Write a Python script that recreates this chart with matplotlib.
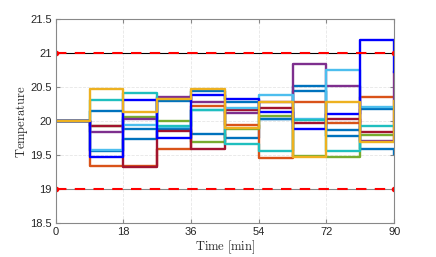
import matplotlib
matplotlib.use("Agg")
import matplotlib.pyplot as plt
from matplotlib.ticker import FormatStrFormatter
import numpy as np

plt.rcParams['mathtext.fontset'] = 'cm'

# time grid (minutes), one sample every 9 min
t = [0, 9, 18, 27, 36, 45, 54, 63, 72, 81, 90]

# room temperatures
blue1 = [20, 20.15, 19.89, 20.30, 20.45, 20.29, 20.03, 20.52, 19.87, 20.18, 20.18]
blue2 = [20, 19.57, 19.74, 19.89, 19.81, 19.75, 20.04, 20.44, 19.79, 19.60, 19.52]
orange = [20, 19.34, 19.34, 19.59, 20.23, 19.95, 19.46, 20.29, 19.97, 20.36, 20.36]
green = [20, 19.93, 20.07, 20.00, 19.70, 19.88, 20.08, 19.49, 19.48, 19.80, 19.80]
purple = [20, 19.85, 20.04, 20.35, 20.28, 20.12, 20.28, 20.84, 20.52, 19.71, 20.72]
dred = [20, 19.93, 19.33, 19.86, 19.59, 20.17, 20.20, 19.97, 20.03, 19.85, 19.85]
lblue = [20, 19.58, 19.95, 19.91, 20.17, 20.19, 20.39, 20.03, 20.75, 20.21, 20.21]
teal = [20, 20.31, 20.41, 19.93, 20.17, 19.66, 19.56, 20.02, 19.56, 19.93, 19.93]
pblue = [20, 19.48, 20.31, 19.76, 20.38, 20.33, 20.13, 19.88, 20.11, 21.19, 20.72]
yellow = [20, 20.475, 20.13, 20.33, 20.48, 19.90, 20.28, 19.48, 20.29, 19.69, 20.30]

series = [
    (blue1, '#0072BD'),
    (blue2, '#0072BD'),
    (orange, '#D95319'),
    (green, '#77AC30'),
    (purple, '#7E2F8E'),
    (dred, '#A2142F'),
    (lblue, '#4DBEEE'),
    (teal, '#1FBFBF'),
    (pblue, '#0000FF'),
    (yellow, '#EDB120'),
]

t_max = 21
t_min = 19

fig = plt.figure(figsize=(4.36, 2.57), dpi=100)
ax = fig.add_axes([0.128, 0.131, 0.776, 0.794])

for vals, col in series:
    ax.step(t, vals, where='post', color=col, lw=1.7)

# comfort limits
ax.plot([0, 90], [t_max, t_max], color='k', lw=0.8)
ax.plot([0, 90], [t_min, t_min], color='#888888', lw=0.8)
ax.plot([0, 90], [t_max, t_max], '--', color='#FF0000', lw=1.5,
        marker='o', ms=3, dashes=(5, 4))
ax.plot([0, 90], [t_min, t_min], '--', color='#FF0000', lw=1.5,
        marker='o', ms=3, dashes=(5, 4))

ax.set_xlim(0, 90)
ax.set_ylim(18.5, 21.5)
ax.set_xticks([0, 18, 36, 54, 72, 90])
ax.set_yticks(np.arange(18.5, 21.51, 0.5))
ax.yaxis.set_major_formatter(FormatStrFormatter('%g'))
ax.grid(True, ls='--', color='#e6e6e6', lw=0.6)
ax.set_axisbelow(True)

for s in ax.spines.values():
    s.set_color('#888888')
    s.set_linewidth(0.8)
ax.tick_params(direction='in', length=3, color='#888888', top=True, right=True,
               labelsize=8, labelcolor='#262626', pad=3)
for lab in ax.get_xticklabels() + ax.get_yticklabels():
    lab.set_family('Liberation Sans')

ax.set_xlabel(r'$\mathrm{Time\ [min]}$', fontsize=9, labelpad=1, color='#262626')
ax.set_ylabel(r'$\mathrm{Temperature}$', fontsize=9, labelpad=0, color='#262626')

fig.savefig('out.png', dpi=100)
